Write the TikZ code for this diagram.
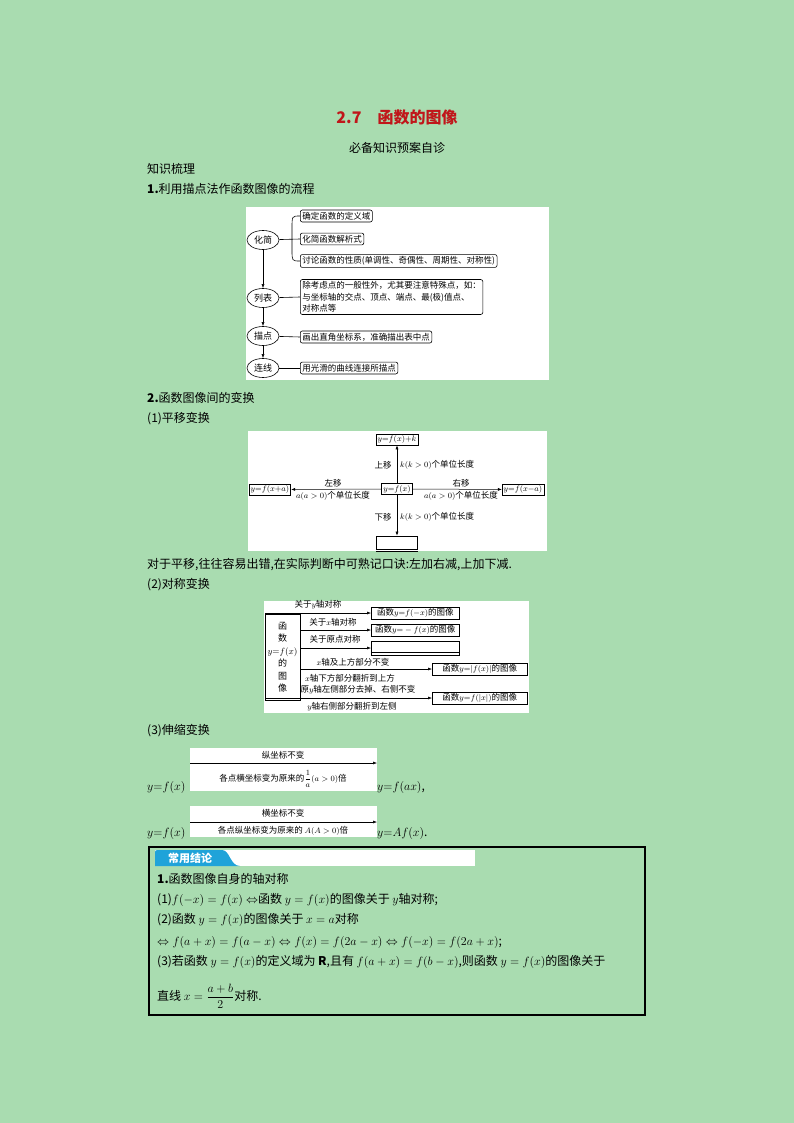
\documentclass[tikz,border=0pt]{standalone}
\usepackage{fontspec}
\setmainfont{Noto Sans CJK SC}
\usetikzlibrary{arrows.meta,shapes.geometric}
\definecolor{bg}{HTML}{A9DCB0}
\definecolor{ttl}{HTML}{C0161A}
\definecolor{tab}{HTML}{1FA3D9}
\tikzset{
 body/.style={anchor=west,inner sep=0pt,font=\fontsize{12}{14}\selectfont},
 sm/.style={inner sep=0pt,font=\fontsize{8.5}{10}\selectfont},
 bx/.style={draw,rounded corners=2pt,anchor=west,inner sep=2pt,font=\fontsize{8.5}{10}\selectfont,line width=0.6pt},
 el/.style={draw,ellipse,minimum width=32pt,minimum height=19pt,inner sep=0pt,font=\fontsize{9}{10}\selectfont,line width=0.6pt},
 sb/.style={draw,inner sep=1.5pt,font=\fontsize{8.5}{10}\selectfont,line width=0.6pt},
 ar/.style={-{Latex[length=4pt,width=3pt]},line width=0.5pt},
}
\begin{document}
\begin{tikzpicture}[x=1pt,y=-1pt]
\fill[bg] (0,0) rectangle (794,1123);
\useasboundingbox (0,0) rectangle (794,1123);
\node[text=ttl,font=\fontsize{16}{18}\selectfont\bfseries] (t) at (397,117) {2.7\quad 函数的图像};
\node[font=\fontsize{12}{14}\selectfont] (t2) at (397,148) {必备知识预案自诊};
\node[body] (h1) at (147,169) {知识梳理};
\node[body] (h2) at (147,189) {\textbf{1.}利用描点法作函数图像的流程};
% figure 1
\fill[white] (246,207) rectangle (549,380);
\node[el] (e1) at (263,240) {化简};
\node[el] (e2) at (263,298) {列表};
\node[el] (e3) at (263,336) {描点};
\node[el] (e4) at (263,368) {连线};
\node[bx] (b1) at (300,216) {确定函数的定义域};
\node[bx] (b2) at (300,239) {化简函数解析式};
\node[bx] (b3) at (300,261) {讨论函数的性质(单调性、奇偶性、周期性、对称性)};
\node[bx,align=left,font=\fontsize{8.5}{11.5}\selectfont] (b4) at (300,297) {除考虑点的一般性外，尤其要注意特殊点，如：\\与坐标轴的交点、顶点、端点、最(极)值点、\\对称点等};
\node[bx] (b5) at (300,337) {画出直角坐标系，准确描出表中点};
\node[bx] (b6) at (300,368) {用光滑的曲线连接所描点};
\draw[line width=0.6pt] (e1) -- (b2.west);
\draw[line width=0.6pt] (b1.west) .. controls (292,216) .. (292,228) -- (292,250) .. controls (292,261) .. (b3.west);
\draw[ar] (e1) -- (e2);
\draw[ar] (e2) -- (e3);
\draw[ar] (e3) -- (e4);
\draw[line width=0.6pt] (e2) -- (b4.west);
\draw[line width=0.6pt] (e3) -- (b5.west);
\draw[line width=0.6pt] (e4) -- (b6.west);
% section 2
\node[body] (h3) at (147,398) {\textbf{2.}函数图像间的变换};
\node[body] (h4) at (147,419) {(1)平移变换};
\fill[white] (248,431) rectangle (547,551);
\node[sb] (c) at (397,489) {$y{=}f(x)$};
\node[sb] (up) at (397,439.5) {$y{=}f(x){+}k$};
\node[sb] (lf) at (270,489.5) {$y{=}f(x{+}a)$};
\node[sb] (rt) at (523,489.5) {$y{=}f(x{-}a)$};
\node[draw,line width=0.6pt,minimum width=41pt,minimum height=13pt,inner sep=0pt] (dn) at (397,542.5) {};
\draw[line width=0.6pt] ([yshift=-2pt]dn.south west) -- ([yshift=-2pt]dn.south east);
\draw[ar] (c) -- (up);
\draw[ar] (c) -- (lf);
\draw[ar] (c) -- (rt);
\draw[ar] (c) -- (dn);
\node[sm] (l1) at (383,465) {上移};
\node[sm,anchor=west] (l2) at (400,465) {$k(k>0)$个单位长度};
\node[sm] (l3) at (383,517) {下移};
\node[sm,anchor=west] (l4) at (400,517) {$k(k>0)$个单位长度};
\node[sm] (l5) at (333,483) {左移};
\node[sm] (l6) at (333,496) {$a(a>0)$个单位长度};
\node[sm] (l7) at (461,483) {右移};
\node[sm] (l8) at (461,496) {$a(a>0)$个单位长度};
\node[body] (p1) at (147,565) {对于平移,往往容易出错,在实际判断中可熟记口诀:左加右减,上加下减.};
\node[body] (h5) at (147,585) {(2)对称变换};
% figure 3
\fill[white] (264,601) rectangle (529,713);
\draw[line width=0.6pt] (265,614) rectangle (300,700);
\node[sm,align=center,font=\fontsize{9}{12.5}\selectfont] (fy) at (282.5,657) {函\\数\\$y{=}f(x)$\\的\\图\\像};
\node[sb,minimum width=88pt,anchor=west] (s1) at (371,613) {函数$y{=}f(-x)$的图像};
\node[sb,minimum width=88pt,anchor=west] (s2) at (371,630) {函数$y{=}-f(x)$的图像};
\node[draw,line width=0.6pt,minimum width=88pt,minimum height=14pt,inner sep=0pt,anchor=west] (s3) at (371,648) {};
\draw[line width=0.6pt] ([yshift=3pt]s3.south west) -- ([yshift=3pt]s3.south east);
\node[sb,minimum width=95pt,anchor=west] (s4) at (432,669) {函数$y{=}|f(x)|$的图像};
\node[sb,minimum width=95pt,anchor=west] (s5) at (432,698) {函数$y{=}f(|x|)$的图像};
\coordinate (a1) at (265,613);
\coordinate (a2) at (300,630);
\coordinate (a3) at (300,648);
\coordinate (a4) at (300,669);
\coordinate (a5) at (265,698);
\draw[ar] (a1) -- (s1.west);
\draw[ar] (a2) -- (s2.west);
\draw[ar] (a3) -- (s3.west);
\draw[ar] (a4) -- (s4.west);
\draw[ar] (a5) -- (s5.west);
\node[sm] (m1) at (318,605) {关于$y$轴对称};
\node[sm] (m2) at (333,622) {关于$x$轴对称};
\node[sm] (m3) at (335,639) {关于原点对称};
\node[sm] (m4) at (353,662) {$x$轴及上方部分不变};
\node[sm] (m5) at (350,678) {$x$轴下方部分翻折到上方};
\node[sm] (m6) at (358,690) {原$y$轴左侧部分去掉、右侧不变};
\node[sm] (m7) at (352,707) {$y$轴右侧部分翻折到左侧};
% stretch
\node[body] (h6) at (147,731) {(3)伸缩变换};
\fill[white] (190,748) rectangle (377,791);
\node[sm] (n1) at (283,755) {纵坐标不变};
\coordinate (q1) at (190,763);
\coordinate (q2) at (377,763);
\draw[ar] (q1) -- (q2);
\node[sm] (n2) at (283,779) {各点横坐标变为原来的$\displaystyle\frac{1}{a}(a>0)$倍};
\node[body] (y1) at (147,787) {$y{=}f(x)$};
\node[body] (y2) at (377,787) {$y{=}f(ax)$,};
\fill[white] (190,806) rectangle (377,837);
\node[sm] (n3) at (283,813) {横坐标不变};
\coordinate (q3) at (190,822);
\coordinate (q4) at (377,822);
\draw[ar] (q3) -- (q4);
\node[sm] (n4) at (283,831) {各点纵坐标变为原来的 $A(A>0)$倍};
\node[body] (y3) at (147,833) {$y{=}f(x)$};
\node[body] (y4) at (377,833) {$y{=}Af(x)$.};
% conclusion box
\draw[line width=2.5pt] (149,847) rectangle (645,1015);
\fill[white] (155,850) rectangle (475,866);
\fill[tab] (155,866) -- (155,854) .. controls (155,850) .. (160,850) -- (222,850) .. controls (230,850) and (230,866) .. (240,866) -- cycle;
\node[text=white,font=\fontsize{11}{12}\selectfont\bfseries] (tb) at (190,858) {常用结论};
\node[body] (k1) at (157,879) {\textbf{1.}函数图像自身的轴对称};
\node[body] (k2) at (157,900) {(1)$f(-x)=f(x)\Leftrightarrow$函数 $y=f(x)$的图像关于 $y$轴对称;};
\node[body] (k3) at (157,920) {(2)函数 $y=f(x)$的图像关于 $x=a$对称};
\node[body] (k4) at (157,942) {$\Leftrightarrow f(a+x)=f(a-x)\Leftrightarrow f(x)=f(2a-x)\Leftrightarrow f(-x)=f(2a+x)$;};
\node[body] (k5) at (157,962) {(3)若函数 $y=f(x)$的定义域为 $\mathbf{R}$,且有 $f(a+x)=f(b-x)$,则函数 $y=f(x)$的图像关于};
\node[body] (k6) at (157,996) {直线 $x=\displaystyle\frac{a+b}{2}$对称.};
\end{tikzpicture}
\end{document}
